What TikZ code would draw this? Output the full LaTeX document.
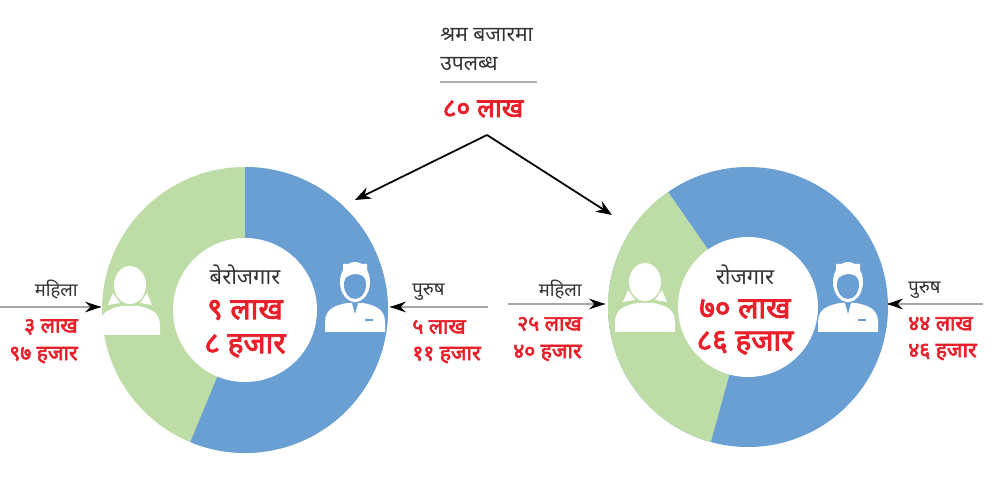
\documentclass[tikz,border=0pt]{standalone}
\usepackage{fontspec}
\newfontfamily\dev[Script=Devanagari]{Noto Sans}
\newfontfamily\devb[Script=Devanagari,FakeBold=3]{Noto Sans}
\usetikzlibrary{arrows.meta,calc}
\definecolor{bl}{HTML}{6A9FD4}
\definecolor{gr}{HTML}{BDDCA6}
\definecolor{rd}{HTML}{E8202A}
\definecolor{tx}{HTML}{333333}
\tikzset{
 lab/.style={font=\dev\fontsize{10.5}{12}\selectfont,text=tx,inner sep=0pt},
 big/.style={font=\devb\fontsize{17}{19}\selectfont,text=rd,inner sep=0pt},
 mid/.style={font=\devb\fontsize{12}{14}\selectfont,text=rd,inner sep=0pt},
 ctr/.style={font=\dev\fontsize{12.5}{14}\selectfont,text=tx,inner sep=0pt},
 blk/.style={line width=1pt,-{Stealth[length=9pt,width=7pt]}}
}
\newcommand{\female}[1]{\begin{scope}[shift={#1}]
 \fill[white] (-30,-32) -- (-30,-22) .. controls (-30,-8) and (-18,-5) .. (-8,-3) -- (8,-3) .. controls (18,-5) and (30,-8) .. (30,-22) -- (30,-32) -- cycle;
 \fill[white] (0,18) ellipse (16 and 19);
 \fill[white] (-17,10) -- (-22,-2) -- (-10,0) -- cycle;
 \fill[white] (17,10) -- (22,-2) -- (10,0) -- cycle;
 \end{scope}}
\newcommand{\male}[1]{\begin{scope}[shift={#1}]
 \fill[white] (-30,-32) -- (-30,-22) .. controls (-30,-8) and (-18,-5) .. (-8,-3) -- (8,-3) .. controls (18,-5) and (30,-8) .. (30,-22) -- (30,-32) -- cycle;
 \fill[white] (0,18) ellipse (15 and 20);
 \fill[bl] (0,15) ellipse (11 and 14);
 \fill[white] (-12,20) .. controls (-4,28) and (6,28) .. (12,20) -- (12,36) -- (-12,36) -- cycle;
 \fill[bl] (-3,-3) -- (0,-14) -- (3,-3) -- cycle;
 \draw[bl,line width=1pt] (10,-20) -- (18,-20);
 \end{scope}}
\begin{document}
\begin{tikzpicture}[x=0.02cm,y=0.02cm]
\useasboundingbox (0,0) rectangle (1000,500);
\coordinate (L) at (245,190);
\fill[gr] (L) circle (143);
\fill[bl] (L) -- ++(90:143) arc[start angle=90,end angle=-112.5,radius=143] -- cycle;
\fill[white] (L) circle (72);
\coordinate (R) at (748,193);
\fill[bl] (R) circle (140);
\fill[gr] (R) -- ++(124.8:140) arc[start angle=124.8,end angle=254.6,radius=140] -- cycle;
\fill[white] (R) circle (70);
\female{(130,197)}\male{(355,200)}
\female{(645,200)}\male{(848,200)}
\node[ctr] (lc1) at (245,225) {बेरोजगार};
\node[big] (lc2) at (245,190) {९ लाख};
\node[big] (lc3) at (245,154) {८ हजार};
\node[ctr] (rc1) at (745,225) {रोजगार};
\node[big] (rc2) at (745,191) {७० लाख};
\node[big] (rc3) at (745,157) {८६ हजार};
\node[lab,anchor=west,font=\dev\fontsize{12}{14}\selectfont] (t1) at (440,465) {श्रम बजारमा};
\node[lab,anchor=west,font=\dev\fontsize{12}{14}\selectfont] (t2) at (440,436) {उपलब्ध};
\draw[gray!60,line width=0.8pt] (440,418) -- (537,418);
\node[big,font=\devb\fontsize{15}{17}\selectfont] (t3) at (483,391) {८० लाख};
\coordinate (ap) at (487,365);
\coordinate (al) at (355,300);
\coordinate (ar) at (612,285);
\draw[blk] (ap) -- (al);
\draw[blk] (ap) -- (ar);
\coordinate (a1s) at (0,193); \coordinate (a1e) at (101,193);
\draw[gray!70,line width=0.7pt] (a1s) -- (a1e);
\draw[-{Stealth[length=9pt,width=6pt]},black] ($(a1e)+(-10,0)$) -- (a1e);
\node[lab,anchor=east] (m1) at (78,210) {महिला};
\node[mid,anchor=east] (m1a) at (78,173) {३ लाख};
\node[mid,anchor=east] (m1b) at (78,145) {९७ हजार};
\coordinate (a2s) at (488,193); \coordinate (a2e) at (390,193);
\draw[gray!70,line width=0.7pt] (a2s) -- (a2e);
\draw[-{Stealth[length=9pt,width=6pt]},black] ($(a2e)+(10,0)$) -- (a2e);
\node[lab,anchor=west] (p1) at (412,208) {पुरुष};
\node[mid,anchor=west] (p1a) at (412,173) {५ लाख};
\node[mid,anchor=west] (p1b) at (412,145) {११ हजार};
\coordinate (a3s) at (508,196); \coordinate (a3e) at (605,196);
\draw[gray!70,line width=0.7pt] (a3s) -- (a3e);
\draw[-{Stealth[length=9pt,width=6pt]},black] ($(a3e)+(-10,0)$) -- (a3e);
\node[lab,anchor=east] (m2) at (582,210) {महिला};
\node[mid,anchor=east] (m2a) at (582,176) {२५ लाख};
\node[mid,anchor=east] (m2b) at (582,147) {४० हजार};
\coordinate (a4s) at (983,196); \coordinate (a4e) at (887,196);
\draw[gray!70,line width=0.7pt] (a4s) -- (a4e);
\draw[-{Stealth[length=9pt,width=6pt]},black] ($(a4e)+(10,0)$) -- (a4e);
\node[lab,anchor=west] (p2) at (908,210) {पुरुष};
\node[mid,anchor=west] (p2a) at (908,176) {४४ लाख};
\node[mid,anchor=west] (p2b) at (908,148) {४६ हजार};
\end{tikzpicture}
\end{document}
